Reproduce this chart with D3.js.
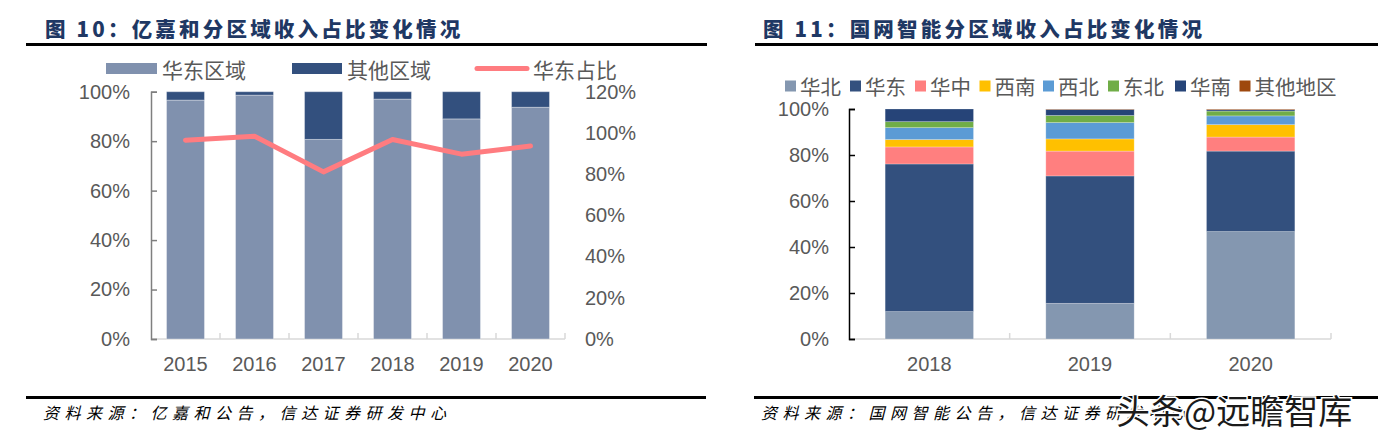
<!DOCTYPE html>
<html><head><meta charset="utf-8">
<script src="https://cdn.jsdelivr.net/npm/d3@7/dist/d3.min.js"></script>
<style>
html,body{margin:0;padding:0;background:#fff;}
svg{display:block;}
</style></head>
<body><svg id="c" width="1378" height="435"></svg>
<script>
// ---------- data: chart 1 (亿嘉和) ----------
const years1 = ['2015','2016','2017','2018','2019','2020'];
const eastShare = [0.966,0.986,0.807,0.970,0.890,0.937];
const otherShare = [0.034,0.014,0.193,0.030,0.110,0.063];
const eastRatioLine = [0.965,0.984,0.811,0.968,0.897,0.936];
const leftTicks1 = [0,0.2,0.4,0.6,0.8,1.0];
const rightTicks1 = [0,0.2,0.4,0.6,0.8,1.0,1.2];
const legend1 = ['华东区域','其他区域','华东占比'];

// ---------- data: chart 2 (国网智能) ----------
const years2 = ['2018','2019','2020'];
const regions = ['华北','华东','华中','西南','西北','东北','华南','其他地区'];
const huabei   = [0.119,0.155,0.467];
const huadong  = [0.642,0.554,0.350];
const huazhong = [0.074,0.108,0.061];
const xinan    = [0.032,0.053,0.054];
const xibei    = [0.052,0.071,0.038];
const dongbei  = [0.026,0.031,0.021];
const huanan   = [0.055,0.026,0.006];
const qita     = [0.000,0.002,0.003];
const ticks2 = [0,0.2,0.4,0.6,0.8,1.0];

const regionColors = ['#8497B0','#33507E','#FF7F7F','#FFC000','#5B9BD5','#70AD47','#264478','#9E480E'];

const svg = d3.select('#c');
svg.append('rect').attr('width',1378).attr('height',435).attr('fill','#fff');
const NUM = 'Liberation Sans, Arial, sans-serif';
const CJK = '"Noto Sans CJK SC", sans-serif';
const pct = d => Math.round(d*100)+'%';

// ---------- headers / footers ----------
function header(x0, x1, tx, title){
  svg.append('text').attr('x',tx).attr('y',28).attr('dominant-baseline','central')
    .attr('font-family',CJK).attr('font-weight',900).attr('font-size',20.5)
    .attr('letter-spacing',3.2).attr('fill','#1F3864').text(title);
  svg.append('rect').attr('x',x0).attr('y',43).attr('width',x1-x0).attr('height',3).attr('fill','#000');
}
function footer(x0, x1, tx, src){
  svg.append('rect').attr('x',x0).attr('y',396).attr('width',x1-x0).attr('height',3).attr('fill','#000');
  svg.append('text').attr('x',tx).attr('y',412).attr('dominant-baseline','central')
    .attr('font-family',CJK).attr('font-size',16).attr('font-style','italic')
    .attr('letter-spacing',5.5).attr('fill','#000').text(src);
}
header(26,707,45,'图 10：亿嘉和分区域收入占比变化情况');
header(755,1378,763,'图 11：国网智能分区域收入占比变化情况');
footer(26,706,43,'资料来源：亿嘉和公告，信达证券研发中心');
footer(754,1378,761,'资料来源：国网智能公告，信达证券研发中心');

// ---------- chart 1 ----------
const g1 = svg.append('g');
const x1 = d3.scaleBand().domain(years1).range([151,565]).paddingInner(0.45).paddingOuter(0.225);
const yL = d3.scaleLinear().domain([0,1]).range([339,91.7]);
const yR = d3.scaleLinear().domain([0,1.2]).range([339,91.7]);

g1.append('line').attr('x1',151).attr('x2',565).attr('y1',339).attr('y2',339).attr('stroke','#D9D9D9').attr('stroke-width',1.5);
years1.forEach((y)=>{
  const xx = x1(y) - x1.step()*x1.paddingInner()/2 + x1.step();
  g1.append('line').attr('x1',xx).attr('x2',xx).attr('y1',339).attr('y2',333).attr('stroke','#D9D9D9').attr('stroke-width',1.5);
});
g1.selectAll('rect.e').data(years1).join('rect')
  .attr('x',d=>x1(d)).attr('width',x1.bandwidth())
  .attr('y',(d,i)=>yL(eastShare[i])).attr('height',(d,i)=>yL(0)-yL(eastShare[i]))
  .attr('fill','#8091AE').attr('stroke','rgba(255,255,255,0.35)').attr('stroke-width',1);
g1.selectAll('rect.o').data(years1).join('rect')
  .attr('x',d=>x1(d)).attr('width',x1.bandwidth())
  .attr('y',(d,i)=>yL(eastShare[i]+otherShare[i])).attr('height',(d,i)=>yL(eastShare[i])-yL(eastShare[i]+otherShare[i]))
  .attr('fill','#33507E').attr('stroke','rgba(255,255,255,0.35)').attr('stroke-width',1);
const axL = g1.append('g').attr('transform','translate(151,0)')
  .call(d3.axisLeft(yL).tickValues(leftTicks1).tickFormat(pct).tickSize(-6).tickPadding(21));
axL.select('.domain').attr('stroke','#7F7F7F').attr('stroke-width',1.5);
axL.selectAll('.tick line').attr('stroke','#7F7F7F').attr('stroke-width',1.5);
axL.selectAll('text').attr('font-family',NUM).attr('font-size',20).attr('fill','#595959');
const axR = g1.append('g').attr('transform','translate(565,0)')
  .call(d3.axisRight(yR).tickValues(rightTicks1).tickFormat(pct).tickSize(0).tickPadding(20));
axR.select('.domain').remove();
axR.selectAll('text').attr('font-family',NUM).attr('font-size',20).attr('fill','#595959');
g1.selectAll('text.xl').data(years1).join('text')
  .attr('x',d=>x1(d)+x1.bandwidth()/2).attr('y',364).attr('text-anchor','middle').attr('dominant-baseline','central')
  .attr('font-family',NUM).attr('font-size',20).attr('fill','#595959').text(d=>d);
const line1 = d3.line().x((d,i)=>x1(years1[i])+x1.bandwidth()/2).y(d=>yR(d));
g1.append('path').datum(eastRatioLine).attr('d',line1).attr('fill','none')
  .attr('stroke','#FF7C80').attr('stroke-width',5).attr('stroke-linecap','round').attr('stroke-linejoin','round');
const lg1 = g1.append('g');
lg1.append('rect').attr('x',106).attr('y',63).attr('width',51).attr('height',11).attr('fill','#8091AE');
lg1.append('text').attr('x',162).attr('y',69).text(legend1[0]);
lg1.append('rect').attr('x',292).attr('y',63).attr('width',50).attr('height',11).attr('fill','#33507E');
lg1.append('text').attr('x',347).attr('y',69).text(legend1[1]);
lg1.append('line').attr('x1',477).attr('x2',527).attr('y1',68.5).attr('y2',68.5).attr('stroke','#FF7C80').attr('stroke-width',5).attr('stroke-linecap','round');
lg1.append('text').attr('x',533).attr('y',69).text(legend1[2]);
lg1.selectAll('text').attr('dominant-baseline','central').attr('font-family',CJK).attr('font-size',21).attr('fill','#595959');

// ---------- chart 2 ----------
const g2 = svg.append('g');
const x2 = d3.scaleBand().domain(years2).range([849,1331]).paddingInner(0.45).paddingOuter(0.225);
const y2 = d3.scaleLinear().domain([0,1]).range([339,109]);
const series2 = [huabei,huadong,huazhong,xinan,xibei,dongbei,huanan,qita];
const rows = years2.map((yr,i)=>{ const o={year:yr}; regions.forEach((r,k)=>o[r]=series2[k][i]); return o; });
const stacked = d3.stack().keys(regions)(rows);

g2.append('line').attr('x1',849).attr('x2',1331).attr('y1',339).attr('y2',339).attr('stroke','#D9D9D9').attr('stroke-width',1.5);
years2.forEach((y)=>{
  const xx = x2(y) - x2.step()*x2.paddingInner()/2 + x2.step();
  g2.append('line').attr('x1',xx).attr('x2',xx).attr('y1',339).attr('y2',333).attr('stroke','#D9D9D9').attr('stroke-width',1.5);
});
stacked.forEach((s,k)=>{
  g2.append('g').selectAll('rect').data(s).join('rect')
    .attr('x',d=>x2(d.data.year)).attr('width',x2.bandwidth())
    .attr('y',d=>y2(d[1])).attr('height',d=>Math.max(0,y2(d[0])-y2(d[1])))
    .attr('fill',regionColors[k]).attr('stroke','rgba(255,255,255,0.3)').attr('stroke-width',0.8);
});
const ax2 = g2.append('g').attr('transform','translate(849,0)')
  .call(d3.axisLeft(y2).tickValues(ticks2).tickFormat(pct).tickSize(-6).tickPadding(20));
ax2.select('.domain').attr('stroke','#000').attr('stroke-width',1.5);
ax2.selectAll('.tick line').attr('stroke','#000').attr('stroke-width',1.5);
ax2.selectAll('text').attr('font-family',NUM).attr('font-size',20).attr('fill','#595959');
g2.selectAll('text.xl').data(years2).join('text')
  .attr('x',d=>x2(d)+x2.bandwidth()/2).attr('y',364).attr('text-anchor','middle').attr('dominant-baseline','central')
  .attr('font-family',NUM).attr('font-size',20).attr('fill','#595959').text(d=>d);
const legX = [785,850,915,979.5,1043,1108,1175,1239.5];
const lg2 = g2.append('g');
regions.forEach((r,k)=>{
  lg2.append('rect').attr('x',legX[k]).attr('y',80.5).attr('width',11).attr('height',11).attr('fill',regionColors[k]);
  lg2.append('text').attr('x',legX[k]+15).attr('y',86).attr('dominant-baseline','central')
    .attr('font-family',CJK).attr('font-size',20.5).attr('fill','#595959').text(r);
});

// watermark
svg.append('text').attr('x',1116).attr('y',409).attr('dominant-baseline','central')
  .attr('font-family',CJK).attr('font-size',34).attr('fill','#1a1a1a')
  .attr('stroke','#fff').attr('stroke-width',3).attr('paint-order','stroke')
  .text('头条@远瞻智库');
</script></body></html>
